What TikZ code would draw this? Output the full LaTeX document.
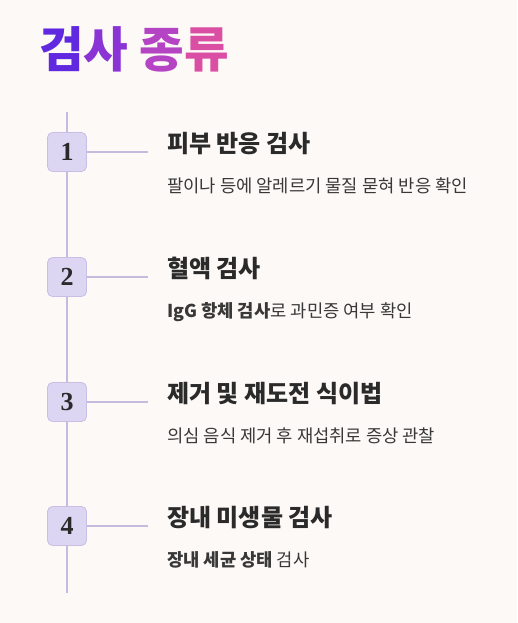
\documentclass[tikz,border=0pt]{standalone}
\usepackage{fontspec}
\setmainfont{Noto Sans CJK KR}
\newfontfamily\numfont{Liberation Serif}
\definecolor{bg}{HTML}{FDF9F6}
\definecolor{linec}{HTML}{C6BADF}
\definecolor{boxfill}{HTML}{DDD6F3}
\definecolor{boxdraw}{HTML}{C9BEE6}
\definecolor{headc}{HTML}{2A2A2A}
\definecolor{descc}{HTML}{383838}
\definecolor{tA}{HTML}{6029E0}
\definecolor{tB}{HTML}{8A34D6}
\definecolor{tC}{HTML}{B444C4}
\definecolor{tD}{HTML}{DA4FA4}
\tikzset{
  numbox/.style={draw=boxdraw, line width=0.8pt, fill=boxfill, rounded corners=5pt,
    minimum width=39pt, minimum height=39pt, inner sep=0pt,
    font=\numfont\fontsize{26}{26}\selectfont\bfseries, text=headc},
  vline/.style={draw=linec, line width=1.6pt},
  hline/.style={draw=linec, line width=1.3pt},
  heading/.style={anchor=base west, inner sep=0pt, font=\fontsize{24}{24}\selectfont\bfseries, text=headc},
  desc/.style={anchor=base west, inner sep=0pt, font=\fontsize{17.7}{17.7}\selectfont, text=descc},
}
\begin{document}
\begin{tikzpicture}[x=1pt,y=-1pt]
\useasboundingbox[fill=bg] (0,0) rectangle (517,623);
\node[anchor=base west, inner sep=0pt, font=\fontsize{48.5}{48.5}\selectfont\bfseries] (title) at (39,68)
  {\textcolor{tA}{검}\textcolor{tB}{사} \textcolor{tC}{종}\textcolor{tD}{류}};
\coordinate (top) at (67,112);
\coordinate (bot) at (67,593);
\node[numbox] (n1) at (67,152) {1};
\node[numbox] (n2) at (67,277) {2};
\node[numbox] (n3) at (67,402) {3};
\node[numbox] (n4) at (67,526) {4};
\draw[vline] (top) -- (n1.north);
\draw[vline] (n1.south) -- (n2.north);
\draw[vline] (n2.south) -- (n3.north);
\draw[vline] (n3.south) -- (n4.north);
\draw[vline] (n4.south) -- (bot);
\coordinate (e1) at (148,152);
\coordinate (e2) at (148,277);
\coordinate (e3) at (148,402);
\coordinate (e4) at (148,526);
\draw[hline] (n1.east) -- (e1);
\draw[hline] (n2.east) -- (e2);
\draw[hline] (n3.east) -- (e3);
\draw[hline] (n4.east) -- (e4);
\node[heading] (h1) at (167,152) {피부 반응 검사};
\node[desc] (d1) at (167,192) {팔이나 등에 알레르기 물질 묻혀 반응 확인};
\node[heading] (h2) at (167,277) {혈액 검사};
\node[desc] (d2) at (167,317) {\textbf{IgG 항체 검사}로 과민증 여부 확인};
\node[heading] (h3) at (167,402) {제거 및 재도전 식이법};
\node[desc] (d3) at (167,442) {의심 음식 제거 후 재섭취로 증상 관찰};
\node[heading] (h4) at (167,526) {장내 미생물 검사};
\node[desc] (d4) at (167,566) {\textbf{장내 세균 상태} 검사};
\end{tikzpicture}
\end{document}
